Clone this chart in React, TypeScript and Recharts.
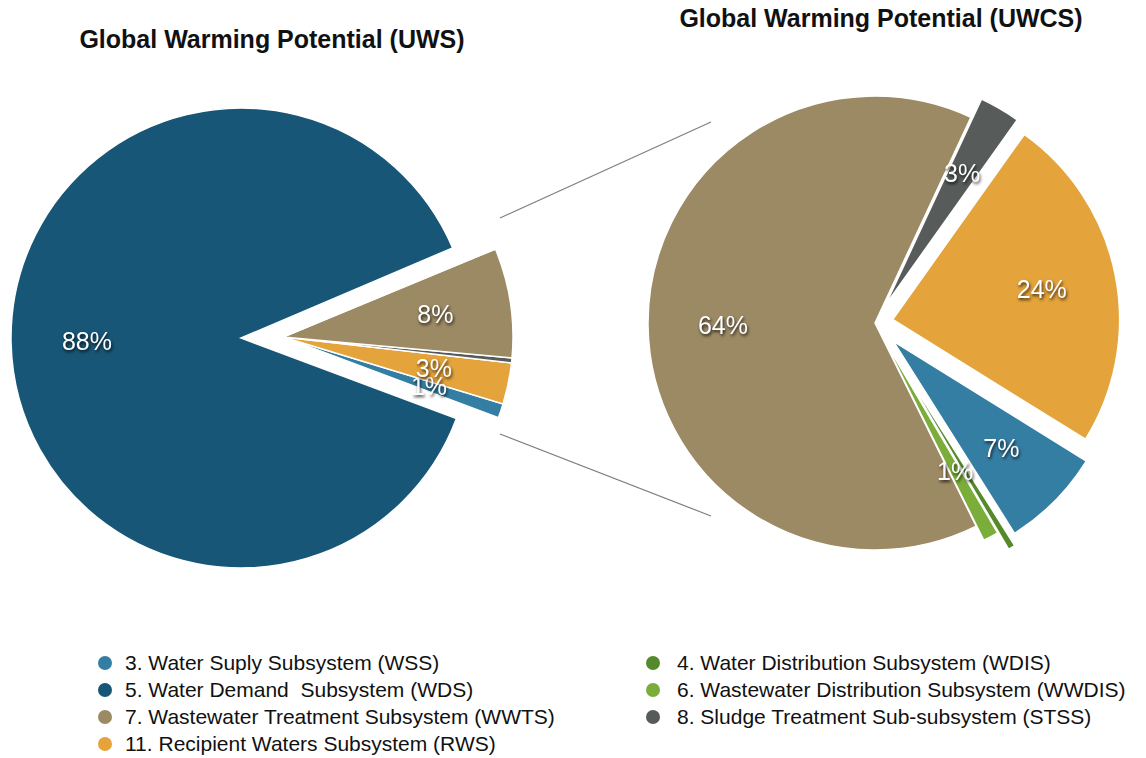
import React from 'react';
import { PieChart, Pie, Cell, Legend, Customized } from 'recharts';

// Subsystem codes, legend labels and colours
const codes = ['WSS', 'WDIS', 'WDS', 'WWDIS', 'WWTS', 'STSS', 'RWS'];
const legendLabels = [
  '3. Water Suply Subsystem (WSS)',
  '4. Water Distribution Subsystem (WDIS)',
  '5. Water Demand  Subsystem (WDS)',
  '6. Wastewater Distribution Subsystem (WWDIS)',
  '7. Wastewater Treatment Subsystem (WWTS)',
  '8. Sludge Treatment Sub-subsystem (STSS)',
  '11. Recipient Waters Subsystem (RWS)',
];
const colors: Record<string, string> = {
  WSS: '#357ea3',
  WDIS: '#548a2b',
  WDS: '#175676',
  WWDIS: '#7bad3b',
  WWTS: '#9c8a64',
  STSS: '#575c5a',
  RWS: '#e4a33b',
};

// Global warming potential shares (%) for the urban water system
const uwsNames = ['WSS', 'RWS', 'STSS', 'WWTS', 'WWDIS', 'WDIS', 'WDS'];
const uwsValues = [1.0, 2.9, 0.35, 7.7, 0.1, 0.05, 87.9];

// Shares (%) for the urban water cycle system
const uwcsNames = ['WWTS', 'WWDIS', 'WDIS', 'WSS', 'RWS', 'STSS'];
const uwcsValues = [64.3, 1.1, 0.5, 7.2, 24.0, 2.9];

const titles = ['Global Warming Potential (UWS)', 'Global Warming Potential (UWCS)'];

const uwsData = uwsNames.map((name, i) => ({ name, value: uwsValues[i] }));
const uwcsData = uwcsNames.map((name, i) => ({ name, value: uwcsValues[i] }));

const RAD = Math.PI / 180;
const W = 1146;
const H = 758;
const FONT = "'Liberation Sans', Arial, Helvetica, sans-serif";

const LEFT = { cx: 241, cy: 338, r: 230, start: -20.5, groupExplode: 42 };
const RIGHT = { cx: 875, cy: 323, r: 227, start: 65 };
const rightExplode: Record<string, number> = {
  WWTS: 0,
  WWDIS: 16,
  WDIS: 36,
  WSS: 26,
  RWS: 18,
  STSS: 21,
};

function midAngles(values: number[], start: number) {
  const total = values.reduce((a, b) => a + b, 0);
  let a = start;
  return values.map((v) => {
    const span = (v / total) * 360;
    const mid = a + span / 2;
    a += span;
    return mid;
  });
}

function shifted(cx: number, cy: number, angle: number, d: number) {
  return { cx: cx + d * Math.cos(angle * RAD), cy: cy - d * Math.sin(angle * RAD) };
}

const makeLabel = (visible: Set<string>) => (props: any) => {
  const name = props.payload?.name ?? props.name;
  if (!visible.has(name) || props.percent < 0.0095) return null;
  const r = props.outerRadius * 0.67;
  const x = props.cx + r * Math.cos(-props.midAngle * RAD);
  const y = props.cy + r * Math.sin(-props.midAngle * RAD);
  return (
    <text
      x={x}
      y={y}
      fill="#ffffff"
      textAnchor="middle"
      dominantBaseline="central"
      fontSize={25}
      fontFamily={FONT}
      style={{ filter: 'drop-shadow(1px 2px 1.5px rgba(0,0,0,0.75))' }}
    >
      {`${Math.round(props.percent * 100)}%`}
    </text>
  );
};

function renderSlices(
  key: string,
  data: { name: string; value: number }[],
  visible: Set<string>,
  cx: number,
  cy: number,
  r: number,
  start: number
) {
  return (
    <Pie
      key={key}
      data={data}
      dataKey="value"
      nameKey="name"
      cx={cx}
      cy={cy}
      outerRadius={r}
      startAngle={start}
      endAngle={start + 360}
      isAnimationActive={false}
      labelLine={false}
      label={makeLabel(visible)}
    >
      {data.map((d) =>
        visible.has(d.name) ? (
          <Cell key={d.name} fill={colors[d.name]} stroke="#ffffff" strokeWidth={1.5} />
        ) : (
          <Cell key={d.name} fill="none" stroke="none" />
        )
      )}
    </Pie>
  );
}

// Titles and the two connector lines between the pies
const Decorations = () => (
  <g>
    <text x={272} y={48} textAnchor="middle" fontSize={25} fontWeight="bold" fontFamily={FONT} fill="#111">
      {titles[0]}
    </text>
    <text x={881} y={27} textAnchor="middle" fontSize={25} fontWeight="bold" fontFamily={FONT} fill="#111">
      {titles[1]}
    </text>
    <line x1={500} y1={218} x2={711} y2={122} stroke="#7f7f7f" strokeWidth={1.2} />
    <line x1={500} y1={434} x2={711} y2={516} stroke="#7f7f7f" strokeWidth={1.2} />
  </g>
);

const legendColumns = [
  ['WSS', 'WDS', 'WWTS', 'RWS'],
  ['WDIS', 'WWDIS', 'STSS'],
];

const renderLegend = () => (
  <div style={{ position: 'relative', width: W, height: 110 }}>
    {legendColumns.map((col, ci) => (
      <div key={ci} style={{ position: 'absolute', left: ci === 0 ? 98 : 646, top: 0 }}>
        {col.map((code) => (
          <div
            key={code}
            style={{
              display: 'flex',
              alignItems: 'center',
              height: 27,
              fontFamily: FONT,
              fontSize: 21,
              color: '#111',
              whiteSpace: 'pre',
            }}
          >
            <span
              style={{
                display: 'inline-block',
                width: 14,
                height: 14,
                borderRadius: 7,
                background: colors[code],
                marginRight: ci === 0 ? 13 : 17,
              }}
            />
            {legendLabels[codes.indexOf(code)]}
          </div>
        ))}
      </div>
    ))}
  </div>
);

export default function App() {
  const uwsTotal = uwsValues.reduce((a, b) => a + b, 0);
  const detailSpan =
    (uwsValues.filter((_, i) => uwsNames[i] !== 'WDS').reduce((a, b) => a + b, 0) / uwsTotal) * 360;
  const groupMid = LEFT.start + detailSpan / 2;
  const leftDetail = shifted(LEFT.cx, LEFT.cy, groupMid, LEFT.groupExplode);
  const detailSet = new Set(uwsNames.filter((n) => n !== 'WDS'));

  const uwcsMids = midAngles(uwcsValues, RIGHT.start);

  return (
    <div style={{ position: 'absolute', left: 0, top: 0, width: W, height: H, background: '#fff' }}>
      <PieChart width={W} height={H} margin={{ top: 0, right: 0, bottom: 0, left: 0 }}>
        {renderSlices('uws-main', uwsData, new Set(['WDS']), LEFT.cx, LEFT.cy, LEFT.r, LEFT.start)}
        {renderSlices('uws-detail', uwsData, detailSet, leftDetail.cx, leftDetail.cy, LEFT.r, LEFT.start)}
        {uwcsNames.map((name, i) => {
          const c = shifted(RIGHT.cx, RIGHT.cy, uwcsMids[i], rightExplode[name]);
          return renderSlices(`uwcs-${name}`, uwcsData, new Set([name]), c.cx, c.cy, RIGHT.r, RIGHT.start);
        })}
        <Customized component={Decorations} />
        <Legend content={renderLegend} wrapperStyle={{ position: 'absolute', left: 0, top: 649, width: W }} />
      </PieChart>
    </div>
  );
}
